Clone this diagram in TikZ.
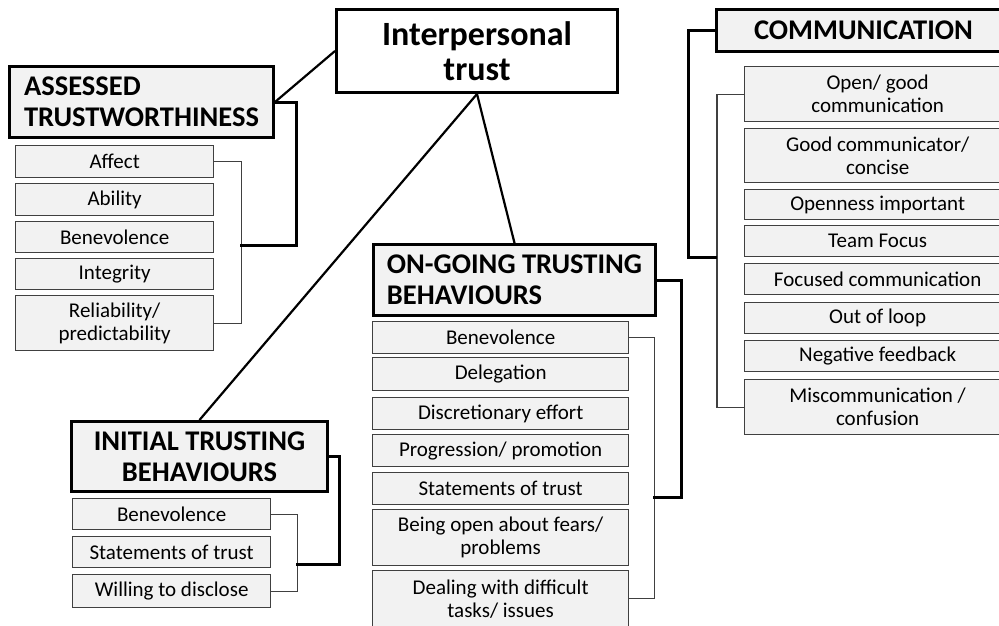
\documentclass[tikz,border=0pt]{standalone}
\usepackage{fontspec}
\setmainfont{Carlito}
\usepackage{tikz}
\usepackage{xcolor}
\definecolor{boxgrey}{HTML}{F2F2F2}
\definecolor{itemline}{HTML}{404040}
\tikzstyle{topbox} = [draw=black, fill=white, line width=3pt, rectangle,
    anchor=north west, inner sep=0, align=center,
    font=\bfseries\fontsize{34}{35}\selectfont]
\tikzstyle{headbox} = [draw=black, fill=boxgrey, line width=3pt, rectangle,
    anchor=north west, inner sep=0, align=center,
    font=\bfseries\fontsize{28.5}{31}\selectfont]
\tikzstyle{itembox} = [draw=itemline, fill=boxgrey, line width=1.3pt, rectangle,
    anchor=north west, inner sep=0, align=center,
    font=\fontsize{21}{23}\selectfont]
\tikzstyle{link} = [draw=black, line width=2.2pt]
\tikzstyle{rail} = [draw=itemline, line width=1.3pt]
\tikzstyle{brace} = [draw=black, line width=3pt]

\begin{document}
\begin{tikzpicture}[x=1pt, y=-1pt]
    \useasboundingbox (0,0) rectangle (999,625);

    \node [topbox, minimum width=281pt, minimum height=83pt] (trust) at (335,8)
        {Interpersonal\\trust};

    % assessed trustworthiness
    \node [headbox, align=left, minimum width=264pt, minimum height=71pt] (assessed) at (8,65)
        {ASSESSED\\TRUSTWORTHINESS};
    \node [itembox, minimum width=198pt, minimum height=32pt] (aaffect) at (15,145) {Affect};
    \node [itembox, minimum width=198pt, minimum height=32pt] (aability) at (15,183) {Ability};
    \node [itembox, minimum width=198pt, minimum height=31pt] (abenev) at (15,221) {Benevolence};
    \node [itembox, minimum width=198pt, minimum height=31pt] (ainteg) at (15,258) {Integrity};
    \node [itembox, minimum width=198pt, minimum height=55pt] (areliab) at (15,295)
        {Reliability/\\predictability};

    % communication
    \node [headbox, minimum width=294pt, minimum height=42pt] (comm) at (715,8) {COMMUNICATION};
    \node [itembox, minimum width=266pt, minimum height=55pt] (copen) at (744,66)
        {Open/ good\\communication};
    \node [itembox, minimum width=266pt, minimum height=54pt] (cgood) at (744,128)
        {Good communicator/\\concise};
    \node [itembox, minimum width=266pt, minimum height=30pt] (copenness) at (744,189) {Openness important};
    \node [itembox, minimum width=266pt, minimum height=31pt] (cteam) at (744,225) {Team Focus};
    \node [itembox, minimum width=266pt, minimum height=31pt] (cfocus) at (744,263) {Focused communication};
    \node [itembox, minimum width=266pt, minimum height=31pt] (cloop) at (744,302) {Out of loop};
    \node [itembox, minimum width=266pt, minimum height=31pt] (cneg) at (744,340) {Negative feedback};
    \node [itembox, minimum width=266pt, minimum height=55pt] (cmis) at (744,379)
        {Miscommunication /\\confusion};

    % initial trusting behaviours
    \node [headbox, minimum width=256pt, minimum height=70pt] (initial) at (70,420)
        {INITIAL TRUSTING\\BEHAVIOURS};
    \node [itembox, minimum width=198pt, minimum height=31pt] (ibenev) at (72,498) {Benevolence};
    \node [itembox, minimum width=198pt, minimum height=31pt] (istate) at (72,536) {Statements of trust};
    \node [itembox, minimum width=198pt, minimum height=33pt] (iwill) at (72,574) {Willing to disclose};

    % on-going trusting behaviours
    \node [headbox, align=left, minimum width=282pt, minimum height=71pt] (ongoing) at (372,243)
        {ON-GOING TRUSTING\\BEHAVIOURS};
    \node [itembox, minimum width=256pt, minimum height=32pt] (obenev) at (372,321) {Benevolence};
    \node [itembox, minimum width=256pt, minimum height=33pt] (odeleg) at (372,357) {Delegation};
    \node [itembox, minimum width=256pt, minimum height=32pt] (odiscr) at (372,397) {Discretionary effort};
    \node [itembox, minimum width=256pt, minimum height=32pt] (oprog) at (372,434) {Progression/ promotion};
    \node [itembox, minimum width=256pt, minimum height=32pt] (ostate) at (372,472) {Statements of trust};
    \node [itembox, minimum width=256pt, minimum height=56pt] (oopen) at (372,509)
        {Being open about fears/\\problems};
    \node [itembox, minimum width=256pt, minimum height=56pt] (odeal) at (372,570)
        {Dealing with difficult\\tasks/ issues};

    % links from the centre
    \draw [link] (trust.west) -- (assessed.east);
    \draw [link] (trust.south) -- (initial.north);
    \draw [link] (trust.south) -- (ongoing.north);

    % brackets
    \coordinate (arail) at (240,245);
    \coordinate (crail) at (717,257);
    \coordinate (irail) at (296,564);
    \coordinate (orail) at (653,497);
    \draw [rail] (aaffect.east) -- ++(27,0) |- (areliab.east);
    \draw [brace] (assessed.east) -- ++(21,0) |- (arail);
    \draw [rail] (copen.west) -- ++(-27,0) |- (cmis.west);
    \draw [brace] (comm.west) -- ++(-27,0) |- (crail);
    \draw [rail] (ibenev.east) -- ++(26,0) |- (iwill.east);
    \draw [brace] (initial.east) -- ++(10,0) |- (irail);
    \draw [rail] (obenev.east) -- ++(25,0) |- (odeal.east);
    \draw [brace] (ongoing.east) -- ++(24,0) |- (orail);
\end{tikzpicture}
\end{document}
